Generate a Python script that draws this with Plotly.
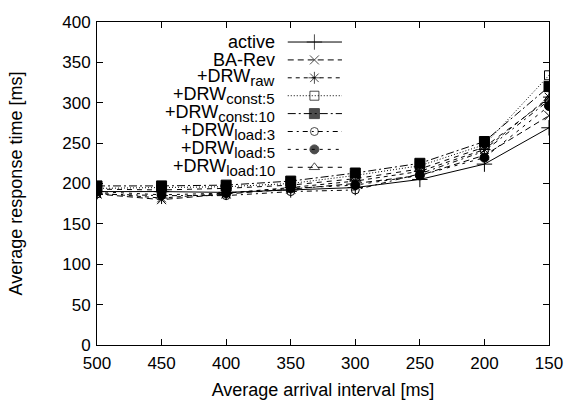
import plotly.graph_objects as go

intervals = [500, 450, 400, 350, 300, 250, 200, 150]
active = [190, 190, 189, 192, 195, 205, 224, 269]
ba_rev = [187, 180, 187, 193, 200, 210, 235, 284]
drw_raw = [188, 182, 188, 195, 203, 215, 242, 307]
drw_const5 = [194, 195, 196, 200, 210, 222, 248, 334]
drw_const10 = [197, 197, 198, 203, 213, 225, 252, 320]
drw_load3 = [187, 185, 185, 190, 192, 212, 240, 303]
drw_load5 = [190, 186, 188, 194, 198, 210, 232, 296]
drw_load10 = [193, 192, 194, 198, 206, 218, 245, 305]

base_names = ["active", "BA-Rev", "+DRW", "+DRW", "+DRW", "+DRW", "+DRW", "+DRW"]
subscripts = ["", "", "raw", "const:5", "const:10", "load:3", "load:5", "load:10"]
series = [active, ba_rev, drw_raw, drw_const5, drw_const10, drw_load3, drw_load5, drw_load10]
symbols = ["cross-thin-open", "x-thin-open", "asterisk-open", "square-open",
           "square", "circle-open", "circle", "triangle-up-open"]
dashes = ["solid", "6px,4px", "4px,4px", "1px,2px", "8px,3px,2px,3px",
          "5px,4px,2px,4px", "3px,5px", "5px,5px"]
sizes = [11, 9, 10, 9, 10, 8, 9, 9]


def label(base, sub):
    if not sub:
        return base
    return base + '<sub><span style="font-size:15px">' + sub + "</span></sub>"


names = [label(b, s) for b, s in zip(base_names, subscripts)]

fig = go.Figure()
for name, ys, sym, dash, sz in zip(names, series, symbols, dashes, sizes):
    fig.add_trace(go.Scatter(
        x=intervals, y=ys, mode="lines+markers", name=name,
        line=dict(color="black", width=1, dash=dash),
        marker=dict(symbol=sym, size=sz, color="black",
                    line=dict(color="black", width=1)),
        showlegend=False))

# custom legend (text right-aligned, sample on the right) on an overlay axis
row_top = 0.938
row_step = 0.0554
for i, (name, sym, dash, sz) in enumerate(zip(names, symbols, dashes, sizes)):
    yy = row_top - i * row_step
    fig.add_trace(go.Scatter(
        x=[0.422, 0.481, 0.542], y=[yy] * 3, mode="lines+markers",
        line=dict(color="black", width=1, dash=dash),
        marker=dict(symbol=sym, size=[0, sz, 0], color="black",
                    line=dict(color="black", width=1)),
        xaxis="x2", yaxis="y2", showlegend=False, hoverinfo="skip"))
    fig.add_annotation(x=0.398, y=yy, xref="x2", yref="y2", text=name,
                       showarrow=False, xanchor="right", yanchor="middle",
                       font=dict(size=18, color="black",
                                 family="Liberation Sans, Arial, sans-serif"))

axis_common = dict(showgrid=False, zeroline=False, showline=True,
                   linecolor="black", linewidth=1, mirror="ticks",
                   ticks="inside", ticklen=6, tickcolor="black",
                   tickfont=dict(size=17, color="black"))

fig.update_layout(
    width=569, height=400,
    margin=dict(l=97, r=20, t=22, b=55),
    paper_bgcolor="white", plot_bgcolor="white",
    font=dict(family="Liberation Sans, Arial, sans-serif", color="black"),
    xaxis=dict(range=[500, 150], tickvals=intervals, ticklabelstandoff=3,
               automargin=False,
               title=dict(text="Average arrival interval [ms]",
                          font=dict(size=18), standoff=14),
               **axis_common),
    yaxis=dict(range=[0, 400], dtick=50, ticklabelstandoff=2, automargin=False,
               title=dict(text="Average response time [ms]",
                          font=dict(size=18), standoff=34),
               **axis_common),
    xaxis2=dict(range=[0, 1], overlaying="x", visible=False, fixedrange=True),
    yaxis2=dict(range=[0, 1], overlaying="y", visible=False, fixedrange=True),
)

fig.write_html("out.html", config={"displayModeBar": False},
               post_script="document.body.style.margin='0';"
                           "document.body.style.overflow='hidden';")
